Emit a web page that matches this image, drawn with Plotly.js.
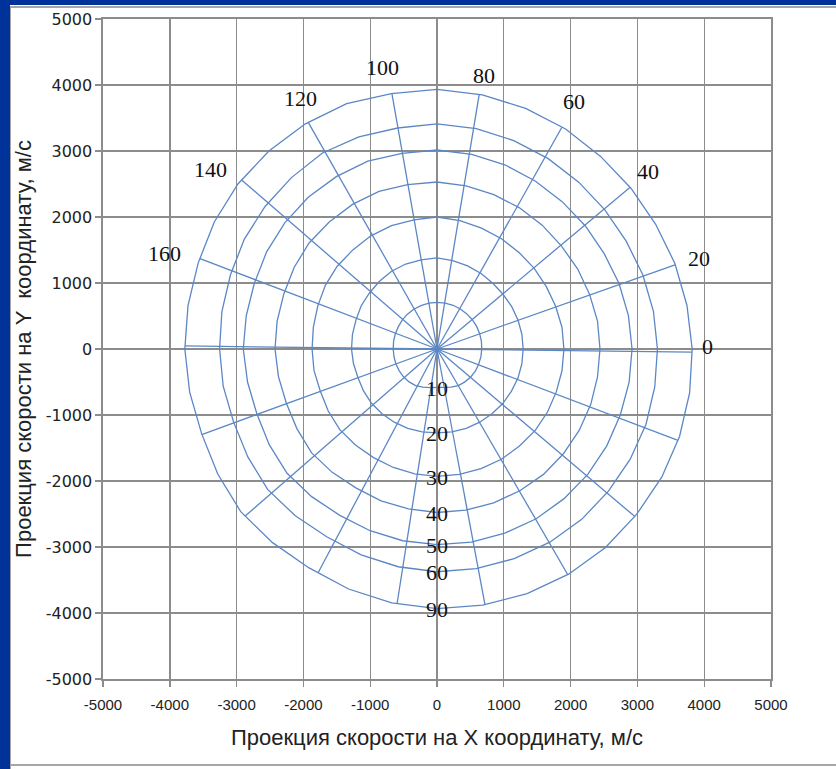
<!DOCTYPE html>
<html>
<head>
<meta charset="utf-8">
<script src="https://cdn.plot.ly/plotly-3.0.1.min.js"></script>
<style>
  html, body { margin: 0; padding: 0; background: #ffffff; }
  #wrap { position: relative; width: 836px; height: 769px; overflow: hidden; }
  #chart { position: absolute; left: 0; top: 0; width: 836px; height: 769px; }
  .bar { position: absolute; pointer-events: none; }
</style>
</head>
<body>
<div id="wrap">
  <div id="chart"></div>
  <div class="bar" style="left:0;top:0;width:10px;height:769px;background:#003399;"></div>
  <div class="bar" style="left:0;top:0;width:836px;height:5px;background:#003399;"></div>
  <div class="bar" style="left:10px;top:6px;width:826px;height:2px;background:#a6a6a6;"></div>
  <div class="bar" style="left:10px;top:8px;width:1px;height:761px;background:#a6a6a6;"></div>
  <div class="bar" style="left:10px;top:764px;width:826px;height:2px;background:#a6a6a6;"></div>
</div>
<script>
// ---- data ----
const ringAngles = [0,10,20,30,40,50,60,70,80,90,100,110,120,130,140,150,160,170,
                    180,190,200,210,220,230,240,250,260,270,280,290,300,310,320,330,340,350];
const ringLabels = ['10','20','30','40','50','60','90'];
const ring10 = [670,675,680,685,690,695,700,705,705,705,705,700,695,690,680,670,665,660,
                655,655,655,655,655,650,640,615,595,585,595,615,640,650,660,665,665,668];
const ring20 = [1290,1290,1290,1290,1290,1300,1320,1340,1360,1380,1370,1370,1360,1340,1320,1310,1290,1285,
                1280,1270,1260,1270,1280,1280,1280,1280,1275,1272,1275,1280,1280,1280,1285,1285,1290,1290];
const ring30 = [1900,1900,1890,1890,1900,1910,1930,1950,1975,2000,1985,1990,1980,1960,1950,1930,1900,1880,
                1870,1870,1860,1880,1900,1900,1900,1910,1920,1930,1930,1930,1930,1920,1920,1910,1900,1900];
const ring40 = [2440,2440,2430,2430,2430,2450,2470,2490,2510,2530,2530,2540,2530,2510,2500,2470,2440,2430,
                2425,2410,2400,2420,2450,2440,2430,2450,2460,2477,2480,2480,2480,2480,2470,2460,2450,2440];
const ring50 = [2920,2910,2900,2890,2900,2915,2940,2970,2995,3015,3010,3030,3015,3000,2975,2945,2910,2900,
                2900,2880,2870,2900,2930,2920,2910,2930,2950,2965,2970,2970,2970,2960,2950,2935,2920,2920];
const ring60 = [3300,3290,3280,3270,3280,3300,3330,3360,3390,3410,3400,3420,3430,3390,3360,3330,3290,3270,
                3255,3250,3240,3270,3310,3300,3290,3320,3350,3375,3380,3380,3380,3370,3350,3340,3330,3310];
const ring90 = [3820,3800,3790,3780,3790,3810,3850,3880,3910,3935,3930,3955,3940,3915,3890,3850,3805,3785,
                3775,3760,3750,3790,3835,3830,3830,3870,3905,3935,3940,3945,3940,3925,3900,3885,3865,3840];
const rayAngles  = [-0.7,19.7,40.3,60.9,80.7,99.9,119.3,138.8,158.9,179.3,
                    200.2,221.4,242.3,261.2,280.5,299.8,319.4,339.0];
const rayLengths = [3817,3785,3786,3845,3911,3930,3942,3888,3803,3772,
                    3753,3834,3829,3906,3941,3941,3902,3864];
const rayLabels  = ['0','20','40','60','80','100','120','140','160'];
const tickVals   = [-5000,-4000,-3000,-2000,-1000,0,1000,2000,3000,4000,5000];

// ---- styles ----
const lineColor = '#5b87c5';
const labelShift = [[16,6],[24,6],[18,16],[12,26],[5,19],[-9,26],[-8,24],[-31,10],[-35,5]];
const labelFont = {family: 'Liberation Serif, Times New Roman, serif', size: 22, color: '#111111'};

const rad = d => d * Math.PI / 180;
const rings = [ring10, ring20, ring30, ring40, ring50, ring60, ring90];

const traces = [];
rings.forEach((r, k) => {
  const xs = [], ys = [];
  ringAngles.forEach((a, i) => { xs.push(r[i] * Math.cos(rad(a))); ys.push(r[i] * Math.sin(rad(a))); });
  xs.push(xs[0]); ys.push(ys[0]);
  traces.push({x: xs, y: ys, type: 'scatter', mode: 'lines', name: ringLabels[k],
               line: {color: lineColor, width: 1.3}, hoverinfo: 'skip'});
});
const rx = [], ry = [];
rayAngles.forEach((a, i) => {
  rx.push(0, rayLengths[i] * Math.cos(rad(a)), null);
  ry.push(0, rayLengths[i] * Math.sin(rad(a)), null);
});
traces.push({x: rx, y: ry, type: 'scatter', mode: 'lines', name: 'rays',
             line: {color: lineColor, width: 1.3}, hoverinfo: 'skip'});

const annotations = [];
rayLabels.forEach((t, i) => {
  annotations.push({
    x: rayLengths[i] * Math.cos(rad(rayAngles[i])), y: rayLengths[i] * Math.sin(rad(rayAngles[i])),
    xref: 'x', yref: 'y', text: t, showarrow: false, font: labelFont,
    xanchor: 'center', yanchor: 'middle', xshift: labelShift[i][0], yshift: labelShift[i][1]
  });
});
const i270 = ringAngles.indexOf(270);
ringLabels.forEach((t, k) => {
  annotations.push({
    x: 0, y: -rings[k][i270], xref: 'x', yref: 'y', text: t, showarrow: false, font: labelFont,
    xanchor: 'center', yanchor: 'middle', xshift: 0, yshift: -1
  });
});

const axisBase = {
  range: [-5000, 5000], tickvals: tickVals, ticktext: tickVals.map(String),
  showgrid: true, gridcolor: '#8c8c8c', gridwidth: 1.4,
  zeroline: false, showline: true, linecolor: '#8c8c8c', linewidth: 1.6, mirror: true,
  ticks: 'outside', ticklen: 6, tickcolor: '#8c8c8c', tickwidth: 1.4,
  fixedrange: true
};

const layout = {
  width: 836, height: 769,
  margin: {l: 103, r: 65, t: 19, b: 90},
  paper_bgcolor: '#ffffff', plot_bgcolor: '#ffffff',
  showlegend: false,
  xaxis: Object.assign({}, axisBase, {
    tickfont: {family: 'Liberation Sans, Arial, sans-serif', size: 15, color: '#222222'},
    ticklabelstandoff: 5,
    title: {text: 'Проекция скорости на X координату, м/с', standoff: 18,
            font: {family: 'Liberation Sans, Arial, sans-serif', size: 22, color: '#222222'}}
  }),
  yaxis: Object.assign({}, axisBase, {
    tickfont: {family: 'DejaVu Sans, Verdana, sans-serif', size: 16, color: '#222222'},
    title: {text: 'Проекция скорости на Y  координату, м/с', standoff: 8,
            font: {family: 'Liberation Sans, Arial, sans-serif', size: 22, color: '#222222'}}
  }),
  annotations: annotations
};

Plotly.newPlot('chart', traces, layout, {staticPlot: true, displayModeBar: false});
</script>
</body>
</html>
